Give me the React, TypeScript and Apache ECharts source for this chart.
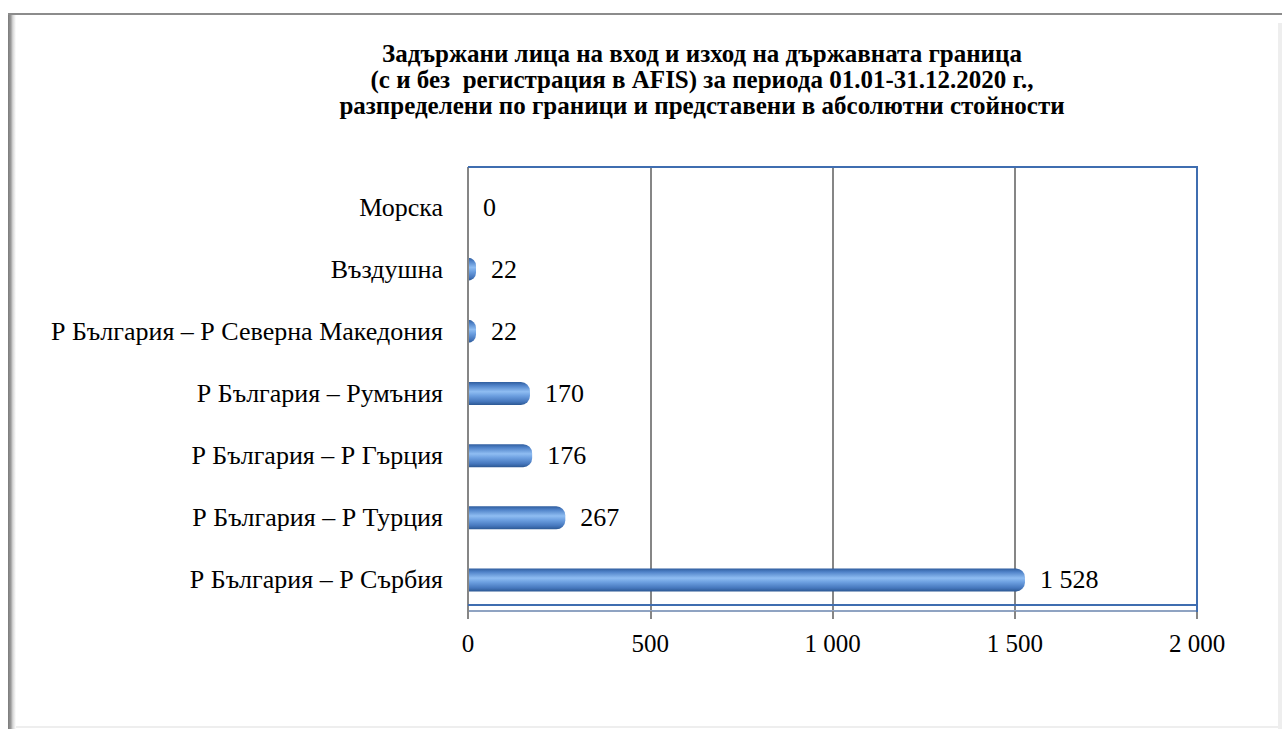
import React, { useEffect, useRef } from "react";
import * as echarts from "echarts";

const categories = [
  "Морска",
  "Въздушна",
  "Р България – Р Северна Македония",
  "Р България – Румъния",
  "Р България – Р Гърция",
  "Р България – Р Турция",
  "Р България – Р Сърбия",
];
const values = [0, 22, 22, 170, 176, 267, 1528];
const axisMin = 0;
const axisMax = 2000;
const axisInterval = 500;
const titleLines = [
  "Задържани лица на вход и изход на държавната граница",
  "(с и без  регистрация в AFIS) за периода 01.01-31.12.2020 г.,",
  "разпределени по граници и представени в абсолютни стойности",
];

const FONT = "Times New Roman, Liberation Serif, serif";
const fmt = (v: number) =>
  String(Math.round(v)).replace(/\B(?=(\d{3})+(?!\d))/g, " ");

export default function App() {
  const ref = useRef<HTMLDivElement>(null);
  useEffect(() => {
    document.body.style.margin = "0";
    const chart = echarts.init(ref.current!, undefined, { renderer: "svg" });
    const barGradient = new echarts.graphic.LinearGradient(0, 0, 0, 1, [
      { offset: 0, color: "#2f5d9e" },
      { offset: 0.15, color: "#4f82c8" },
      { offset: 0.42, color: "#8fbdf2" },
      { offset: 0.6, color: "#6c9fe0" },
      { offset: 0.85, color: "#4677bd" },
      { offset: 1, color: "#2c5893" },
    ]);
    chart.setOption({
      animation: false,
      backgroundColor: "#ffffff",
      textStyle: { fontFamily: FONT },
      title: {
        text: titleLines.join("\n"),
        left: 697,
        top: 35,
        textAlign: "center",
        textStyle: {
          fontFamily: FONT,
          fontSize: 25,
          fontWeight: "bold",
          lineHeight: 26,
          color: "#000",
        },
      },
      grid: [
        { left: 468, right: 85, top: 167, bottom: 118, containLabel: false },
        { left: 468, right: 85, top: 176, bottom: 118, containLabel: false },
      ],
      xAxis: [
        {
          type: "value",
          gridIndex: 0,
          min: axisMin,
          max: axisMax,
          interval: axisInterval,
          axisLine: { show: true, lineStyle: { color: "#8fa3c2", width: 2 } },
          axisTick: { show: true, length: 8, lineStyle: { color: "#868686", width: 2 } },
          axisLabel: {
            margin: 20,
            fontFamily: FONT,
            fontSize: 25,
            color: "#000",
            formatter: (v: number) => fmt(v),
          },
          splitLine: { show: true, lineStyle: { color: "#868686", width: 2 } },
        },
        {
          type: "value",
          gridIndex: 1,
          min: axisMin,
          max: axisMax,
          interval: axisInterval,
          show: false,
        },
      ],
      yAxis: [
        {
          type: "category",
          gridIndex: 0,
          data: categories,
          show: false,
        },
        {
          type: "category",
          gridIndex: 1,
          data: categories,
          inverse: true,
          axisLine: { show: false },
          axisTick: { show: false },
          axisLabel: {
            margin: 25,
            fontFamily: FONT,
            fontSize: 26,
            color: "#000",
          },
        },
      ],
      series: [
        {
          type: "bar",
          xAxisIndex: 1,
          yAxisIndex: 1,
          data: values,
          barWidth: 23,
          itemStyle: { color: barGradient, borderRadius: [0, 9, 9, 0] },
          label: {
            show: true,
            position: "right",
            distance: 15,
            fontFamily: FONT,
            fontSize: 26,
            color: "#000",
            formatter: (p: any) => fmt(p.value),
          },
        },
      ],
      graphic: [
        {
          type: "rect",
          shape: { x: 8, y: 13, width: 8, height: 716 },
          style: {
            fill: new echarts.graphic.LinearGradient(0, 0, 1, 0, [
              { offset: 0, color: "#7a7a7a" },
              { offset: 0.35, color: "#9a9a9a" },
              { offset: 0.6, color: "#d6d6d6" },
              { offset: 1, color: "#ffffff" },
            ]),
          },
        },
        {
          type: "rect",
          shape: { x: 8, y: 13, width: 1274, height: 2 },
          style: { fill: "#8c8c8c" },
        },
        {
          type: "rect",
          shape: { x: 1278, y: 23, width: 4, height: 706 },
          style: { fill: "#eeeeee" },
        },
        {
          type: "rect",
          shape: { x: 16, y: 726, width: 1262, height: 2 },
          style: { fill: "#eeeeee" },
        },
        {
          type: "line",
          z: 10,
          shape: { x1: 468, y1: 167, x2: 468, y2: 611 },
          style: { stroke: "#868686", lineWidth: 2 },
        },
        {
          type: "polyline",
          z: 10,
          shape: { points: [[468, 605], [1197, 605], [1197, 167], [468, 167]] },
          style: { stroke: "#3f6db0", lineWidth: 2, fill: "none" },
        },
        {
          type: "line",
          z: 10,
          shape: { x1: 1197, y1: 605, x2: 1197, y2: 612 },
          style: { stroke: "#3f6db0", lineWidth: 2 },
        },
      ],
    });
    return () => chart.dispose();
  }, []);
  return <div ref={ref} style={{ width: 1282, height: 729 }} />;
}
